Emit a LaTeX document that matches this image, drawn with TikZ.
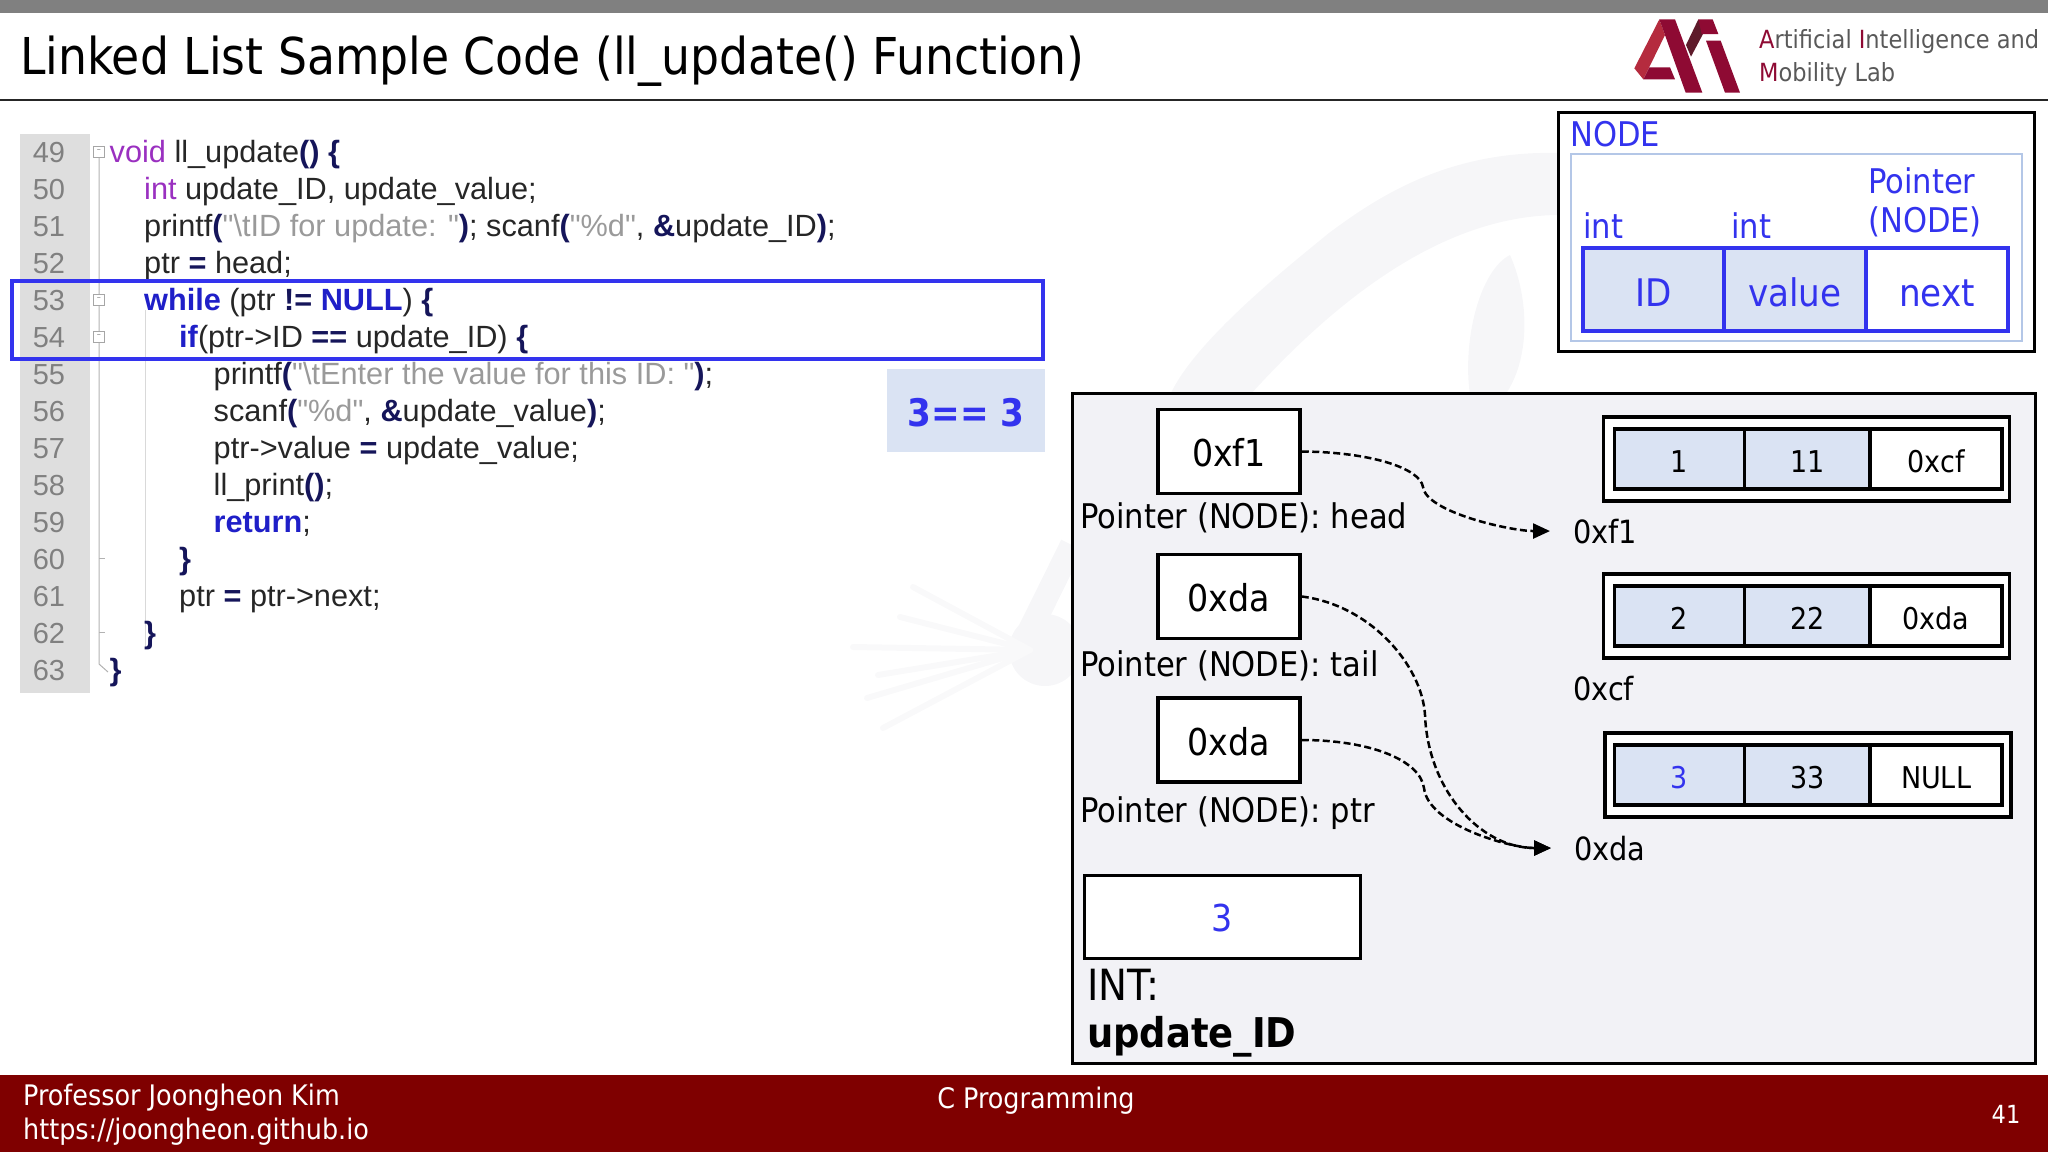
\documentclass[tikz,border=0pt]{standalone}
\usepackage{fontspec}
\setmainfont{DejaVu Sans Condensed}
\newfontfamily\codefont{Liberation Sans}
\usetikzlibrary{arrows.meta}
\definecolor{barred}{HTML}{7F0000}
\definecolor{blueink}{HTML}{3333EE}
\definecolor{cellblue}{HTML}{DAE3F3}
\definecolor{paleblue}{HTML}{B4C7E7}
\definecolor{panelgray}{HTML}{F2F2F6}
\definecolor{markgray}{HTML}{F6F6F8}
\definecolor{raygray}{HTML}{F9F9FA}
\definecolor{logored}{HTML}{8E0A33}
\definecolor{logolight}{HTML}{B52B3E}
\definecolor{logodark}{HTML}{5E1A2A}
\definecolor{labgray}{HTML}{595959}
\definecolor{codepurple}{HTML}{9A30C0}
\definecolor{codeblue}{HTML}{1F1FC8}
\definecolor{codenavy}{HTML}{15155A}
\definecolor{codestr}{HTML}{9A9A9A}
\newcommand{\kwd}[1]{\textcolor{codeblue}{\textbf{#1}}}
\newcommand{\typ}[1]{\textcolor{codepurple}{#1}}
\newcommand{\str}[1]{\textcolor{codestr}{#1}}
\newcommand{\opr}[1]{\textcolor{codenavy}{\textbf{#1}}}
\newcommand{\fsz}[1]{\fontsize{#1}{#1}\selectfont}
\newcommand{\redini}[1]{\textcolor{logored}{#1}}

\begin{document}
\begin{tikzpicture}
[x=1pt,y=-1pt,%
  codeline/.style={anchor=base west,inner sep=0,text=black!85,font=\codefont\fsz{30.7}},%
  linenum/.style={anchor=base,inner sep=0,text=black!50,font=\codefont\fsz{29}},%
  foldbox/.style={draw=black!35,fill=white,line width=1pt,inner sep=0,minimum size=11pt,text=black!50,font=\fsz{9}},%
  ptrbox/.style={draw,fill=white,line width=3.5pt,inner sep=0,minimum width=142pt,minimum height=84pt,text height=31pt,font=\fsz{37}},%
  plain/.style={anchor=base west,inner sep=0,font=\fsz{34}},%
  addr/.style={anchor=base west,inner sep=0,font=\fsz{32}},%
  outerbox/.style={draw,fill=white,line width=3.5pt,inner sep=0,minimum width=406pt,minimum height=84pt},%
  cell/.style={draw,line width=3.5pt,inner sep=0,minimum height=60pt,text height=27pt,font=\fsz{30}},%
  fieldcell/.style={draw=blueink,line width=3.5pt,inner sep=0,minimum height=83pt,text height=34pt,text=blueink,font=\fsz{38}},%
  fieldlabel/.style={anchor=base west,inner sep=0,text=blueink,font=\fsz{34}},%
  barlabel/.style={anchor=base,inner sep=0,text=white,font=\fsz{28.3}},%
  logotext/.style={anchor=base west,inner sep=0,text=labgray,font=\fsz{25}},%
  link/.style={-{Stealth[inset=0pt,length=17pt,width=15pt]},line width=2.5pt,dash pattern=on 7pt off 3.5pt,shorten >=23pt}]
\useasboundingbox (0,0) rectangle (2048,1152);
% watermark
\fill[markgray] (1170,395) .. controls (1195,340) and (1290,265) .. (1329,233) .. controls (1380,195) and (1450,150) .. (1560,153) -- (1560,215) .. controls (1450,215) and (1345,290) .. (1250,395) -- cycle;
\fill[markgray] (1470,395) .. controls (1462,340) and (1480,270) .. (1510,255) .. controls (1530,300) and (1530,360) .. (1505,395) -- cycle;
\fill[markgray] (1045,650) circle (36pt);
\draw[markgray,line width=24pt] (1030,630) -- (1072,545);
\foreach \tipx/\tipy in {913/587,900/617,853/647,878/675,867/698,883/728}
  \draw[raygray,line width=6pt,line cap=round] (1030,650) -- (\tipx,\tipy);
% title bars
\fill[black!50] (0,0) rectangle (2048,13);
\draw[black!85,line width=1.5pt] (0,100) -- (2048,100);
\node[anchor=base west,inner sep=0,font=\fsz{50.8}] (title) at (20,74) {Linked List Sample Code (ll\_update() Function)};
\fill[barred] (0,1075) rectangle (2048,1152);
\node[barlabel,anchor=base west] (prof) at (23,1105) {Professor Joongheon Kim};
\node[barlabel,anchor=base west] (site) at (23,1139) {https://joongheon.github.io};
\node[barlabel] (course) at (1036,1108) {C Programming};
\node[barlabel,font=\fsz{25}] (pagenum) at (2006,1123) {41};
% logo
\begin{scope}[shift={(1620,10)},x=0.3333pt,y=-0.3333pt]
\fill[logolight] (118,28) -- (43,175) -- (70,208) -- (135,75) -- cycle;
\fill[logored] (70,208) -- (165,208) -- (150,172) -- (88,172) -- cycle;
\fill[logodark] (198,105) -- (235,28) -- (258,55) -- (213,140) -- cycle;
\fill[logored] (118,28) -- (165,28) -- (247,248) -- (197,248) -- cycle;
\fill[logored] (235,28) -- (278,28) -- (295,72) -- (245,72) -- cycle;
\fill[logored] (258,92) -- (302,92) -- (360,248) -- (315,248) -- cycle;
\end{scope}
\node[logotext] (labone) at (1759,48) {\redini{A}rtificial \redini{I}ntelligence and};
\node[logotext] (labtwo) at (1759,81) {\redini{M}obility Lab};
% code listing
\fill[black!13] (20,134) rectangle (90,693);
\draw[black!30,line width=1pt] (99,155) -- (99,664) -- (108,672);
\draw[black!15,line width=1pt] (145,310) -- (145,648);
\draw[black!30,line width=1pt] (99,558) -- (105,558);
\draw[black!30,line width=1pt] (99,632) -- (105,632);
\foreach \n [count=\i from 0] in {49,...,63}
  \node[linenum] (num\n) at (49,162+37*\i) {\n};
\node[foldbox] (foldone) at (99,151.5) {--};
\node[foldbox] (foldtwo) at (99,299.5) {--};
\node[foldbox] (foldthree) at (99,336.5) {--};
\node[codeline] (lineA) at (109.5,162) {\typ{void} ll\_update\opr{()} \opr{\{}};
\node[codeline] (lineB) at (144,199) {\typ{int} update\_ID, update\_value;};
\node[codeline] (lineC) at (144,236) {printf\opr{(}\str{"\textbackslash tID for update: "}\opr{)}; scanf\opr{(}\str{"\%d"}, \opr{\&}update\_ID\opr{)};};
\node[codeline] (lineD) at (144,273) {ptr \opr{=} head;};
\node[codeline] (lineE) at (144,310) {\kwd{while} (ptr \opr{!=} \kwd{NULL}) \opr{\{}};
\node[codeline] (lineF) at (179,347) {\kwd{if}(ptr->ID \opr{==} update\_ID) \opr{\{}};
\node[codeline] (lineG) at (213.5,384) {printf\opr{(}\str{"\textbackslash tEnter the value for this ID: "}\opr{)};};
\node[codeline] (lineH) at (213.5,421) {scanf\opr{(}\str{"\%d"}, \opr{\&}update\_value\opr{)};};
\node[codeline] (lineI) at (213.5,458) {ptr->value \opr{=} update\_value;};
\node[codeline] (lineJ) at (213.5,495) {ll\_print\opr{()};};
\node[codeline] (lineK) at (213.5,532) {\kwd{return};};
\node[codeline] (lineL) at (179,569) {\opr{\}}};
\node[codeline] (lineM) at (179,606) {ptr \opr{=} ptr->next;};
\node[codeline] (lineN) at (144,643) {\opr{\}}};
\node[codeline] (lineO) at (109.5,680) {\opr{\}}};
\draw[blueink,line width=4pt] (12,281) rectangle (1043,358.5);
\node[fill=cellblue,minimum width=158pt,minimum height=83pt,inner sep=0,text height=33pt,text=blueink,font=\fsz{38}\bfseries] (cmp) at (966,410) {3== 3};
% node layout
\node[draw,line width=3pt,fill=white,inner sep=0,minimum width=476pt,minimum height=239pt] (legend) at (1796,231.5) {};
\node[draw=paleblue,line width=2.5pt,inner sep=0,minimum width=451pt,minimum height=187pt] (legendin) at (1796.5,247.5) {};
\node[fieldlabel] (legendname) at (1570,146) {NODE};
\node[fieldlabel] (intone) at (1583,238) {int};
\node[fieldlabel] (inttwo) at (1731,238) {int};
\node[fieldlabel] (ptrtop) at (1868,193) {Pointer};
\node[fieldlabel] (ptrbot) at (1868,232) {(NODE)};
\node[fieldcell,fill=cellblue,minimum width=141pt] (fieldid) at (1653.5,289.5) {ID};
\node[fieldcell,fill=cellblue,minimum width=142pt] (fieldval) at (1795,289.5) {value};
\node[fieldcell,fill=white,minimum width=142pt] (fieldnext) at (1937,289.5) {next};
% memory panel
\node[draw,line width=3pt,fill=panelgray,inner sep=0,minimum width=963pt,minimum height=670pt] (panel) at (1554,728) {};
\node[ptrbox] (headbox) at (1229,451.5) {0xf1};
\node[ptrbox] (tailbox) at (1229,596.5) {0xda};
\node[ptrbox] (ptrbox) at (1229,740) {0xda};
\node[plain] (headlabel) at (1080,528) {Pointer (NODE): head};
\node[plain] (taillabel) at (1080,676) {Pointer (NODE): tail};
\node[plain] (ptrlabel) at (1080,822) {Pointer (NODE): ptr};
\node[outerbox] (rowone) at (1806.7,459) {};
\node[cell,fill=cellblue,minimum width=130pt] (idone) at (1679.4,459) {1};
\node[cell,fill=cellblue,minimum width=126pt] (valone) at (1807.3,459) {11};
\node[cell,fill=white,minimum width=132pt] (nextone) at (1936,459) {0xcf};
\node[outerbox] (rowtwo) at (1806.7,616) {};
\node[cell,fill=cellblue,minimum width=130pt] (idtwo) at (1679.4,616) {2};
\node[cell,fill=cellblue,minimum width=126pt] (valtwo) at (1807.3,616) {22};
\node[cell,fill=white,minimum width=132pt] (nexttwo) at (1936,616) {0xda};
\node[outerbox] (rowthree) at (1808,775) {};
\node[cell,fill=cellblue,minimum width=130pt,text=blueink] (idthree) at (1679.4,775) {3};
\node[cell,fill=cellblue,minimum width=126pt] (valthree) at (1807.3,775) {33};
\node[cell,fill=white,minimum width=132pt] (nextthree) at (1936,775) {NULL};
\node[addr] (adrone) at (1573,543) {0xf1};
\node[addr] (adrtwo) at (1573,700) {0xcf};
\node[addr] (adrthree) at (1574,860) {0xda};
\draw[link] (headbox.east) .. controls (1370,452) and (1420,468) .. (1423,487) .. controls (1426,512) and (1510,531) .. (adrone.west);
\draw[link] (tailbox.east) .. controls (1370,605) and (1422,665) .. (1425,715) .. controls (1428,790) and (1480,848) .. (adrthree.west);
\draw[link] (ptrbox.east) .. controls (1370,740) and (1420,760) .. (1424,788) .. controls (1428,825) and (1510,848) .. (adrthree.west);
\node[draw,line width=3.5pt,fill=white,inner sep=0,minimum width=276pt,minimum height=83pt,text height=30pt,text=blueink,font=\fsz{37}] (intbox) at (1222.5,917) {3};
\node[plain,font=\fsz{43}] (intlabel) at (1087,1000) {INT:};
\node[plain,font=\fsz{41}\bfseries] (intname) at (1087,1047) {update\_ID};
\end{tikzpicture}
\end{document}
